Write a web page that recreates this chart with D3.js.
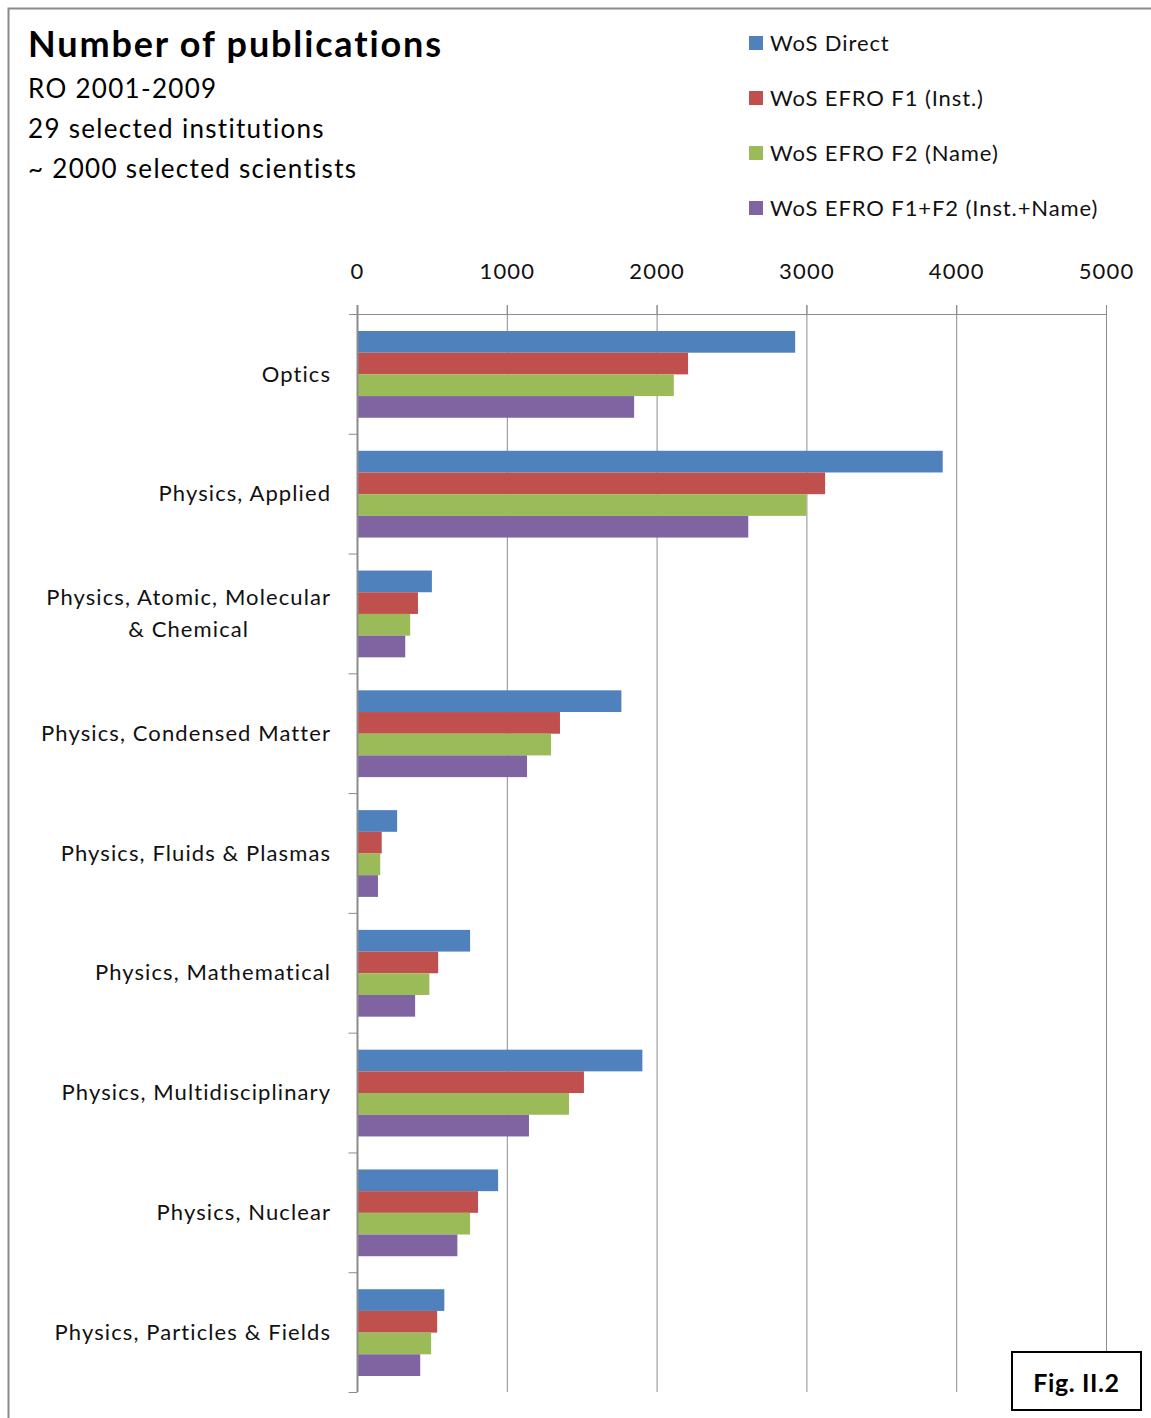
<!DOCTYPE html>
<html>
<head>
<meta charset="utf-8">
<script src="https://cdn.jsdelivr.net/npm/d3@7"></script>
<style>
  html, body { margin: 0; padding: 0; background: #fff; }
  svg { display: block; font-family: Lato, "Open Sans", sans-serif; }
</style>
</head>
<body>
<svg id="chart" width="1151" height="1418"></svg>
<script>
// Subject categories (top to bottom)
const categories = [
  "Optics",
  "Physics, Applied",
  "Physics, Atomic, Molecular\n& Chemical",
  "Physics, Condensed Matter",
  "Physics, Fluids & Plasmas",
  "Physics, Mathematical",
  "Physics, Multidisciplinary",
  "Physics, Nuclear",
  "Physics, Particles & Fields"
];

const seriesNames = [
  "WoS Direct",
  "WoS EFRO F1 (Inst.)",
  "WoS EFRO F2 (Name)",
  "WoS EFRO F1+F2 (Inst.+Name)"
];

// Publication counts per category, one array per series
const wosDirect   = [2925, 3910, 500, 1765, 268, 755, 1905, 942, 583];
const efroF1      = [2210, 3125, 407, 1355, 165, 542, 1515, 808, 535];
const efroF2      = [2115, 3000, 355, 1295, 155, 483, 1415, 755, 495];
const efroF1F2    = [1850, 2612, 322, 1135, 140, 388, 1148, 670, 422];

const xTicks = [0, 1000, 2000, 3000, 4000, 5000];

const titleLines = ["RO 2001-2009", "29 selected institutions", "~ 2000 selected scientists"];

const colors = ["#4F81BD", "#C0504D", "#9BBB59", "#8064A2"];
const seriesValues = [wosDirect, efroF1, efroF2, efroF1F2];

const svg = d3.select("#chart");
const gridColor = "#8c8c8c";
const textColor = "#111";
const spacing = 1.1;

// outer frame (top and left edges)
svg.append("path")
  .attr("d", "M8.5,1418 V8.5 H1151")
  .attr("fill", "none").attr("stroke", "#8a8a8a").attr("stroke-width", 2);

// title block
svg.append("text").attr("x", 28).attr("y", 57)
  .attr("font-size", 36).attr("font-weight", "bold").attr("fill", "#000")
  .attr("letter-spacing", 1.85)
  .text("Number of publications");
titleLines.forEach((t, i) => {
  svg.append("text").attr("x", 28).attr("y", 98 + i * 40)
    .attr("font-size", 26).attr("letter-spacing", 1.3).attr("fill", "#000").text(t);
});

// legend
const legend = svg.append("g");
seriesNames.forEach((name, i) => {
  const y = 43 + i * 55;
  legend.append("rect").attr("x", 749).attr("y", y - 7).attr("width", 14).attr("height", 14)
    .attr("fill", colors[i]);
  legend.append("text").attr("x", 770).attr("y", y).attr("dy", "0.35em")
    .attr("font-size", 22).attr("letter-spacing", 0.9).attr("fill", textColor).text(name);
});

// scales
const x = d3.scaleLinear().domain([0, 5000]).range([357, 1106]);
const y = d3.scaleBand().domain(categories).range([314, 1392]).paddingInner(0).paddingOuter(0);
const inner = d3.scaleBand().domain(d3.range(seriesNames.length))
  .range([17, y.bandwidth() - 16]).paddingOuter(0).paddingInner(0);

// vertical gridlines
svg.append("g").selectAll("line").data(xTicks.slice(1)).join("line")
  .attr("x1", d => x(d) + 0.5).attr("x2", d => x(d) + 0.5)
  .attr("y1", 305).attr("y2", 1392)
  .attr("stroke", gridColor).attr("stroke-width", 1);

// top value axis
const xAxis = svg.append("g").attr("transform", "translate(0,314)")
  .call(d3.axisTop(x).tickValues(xTicks).tickSize(9).tickPadding(0).tickFormat(d3.format("d")));
xAxis.select(".domain").attr("stroke", gridColor);
xAxis.selectAll(".tick line").attr("stroke", gridColor);
xAxis.selectAll(".tick text").remove();
svg.append("g").selectAll("text").data(xTicks).join("text")
  .attr("x", d => x(d) + spacing / 2).attr("y", 279)
  .attr("text-anchor", "middle").attr("font-size", 22).attr("letter-spacing", 1.2)
  .attr("fill", textColor)
  .text(d => d);
svg.append("line").attr("x1", 349).attr("x2", 357).attr("y1", 314.5).attr("y2", 314.5)
  .attr("stroke", gridColor);

// bars
const groups = svg.append("g").selectAll("g").data(categories).join("g")
  .attr("transform", d => `translate(0,${y(d)})`);
groups.selectAll("rect")
  .data((c, ci) => seriesValues.map((vals, si) => ({ si, v: vals[ci] })))
  .join("rect")
  .attr("x", x(0))
  .attr("y", d => inner(d.si))
  .attr("width", d => x(d.v) - x(0))
  .attr("height", inner.bandwidth())
  .attr("fill", d => colors[d.si]);

// category axis
const yAxis = svg.append("g").attr("transform", "translate(357.5,0)");
yAxis.append("line").attr("x1", 0).attr("x2", 0).attr("y1", 305).attr("y2", 1392)
  .attr("stroke", gridColor).attr("stroke-width", 2);
const bounds = categories.map(c => y(c) + y.bandwidth());
yAxis.selectAll("line.tk").data(bounds).join("line").attr("class", "tk")
  .attr("x1", -9).attr("x2", 0).attr("y1", d => d + 0.5).attr("y2", d => d + 0.5)
  .attr("stroke", gridColor);

// category labels: wrapped lines are centred under the widest line, block right-aligned
const labelRight = 330;
const labels = svg.append("g");
categories.forEach(d => {
  const lines = d.split("\n");
  const cy = y(d) + y.bandwidth() / 2;
  const texts = lines.map((ln, i) => labels.append("text")
    .attr("font-size", 22).attr("letter-spacing", spacing).attr("fill", textColor)
    .attr("y", cy + (i - (lines.length - 1) / 2) * 32).attr("dy", "0.35em")
    .text(ln));
  const widths = texts.map(t => t.node().getComputedTextLength() - spacing);
  const maxW = d3.max(widths);
  texts.forEach((t, i) => {
    t.attr("x", labelRight - maxW + (maxW - widths[i]) / 2);
  });
});

// figure tag
svg.append("rect").attr("x", 1012).attr("y", 1352).attr("width", 129).attr("height", 58)
  .attr("fill", "#fff").attr("stroke", "#000").attr("stroke-width", 2);
svg.append("text").attr("x", 1076.5).attr("y", 1383).attr("dy", "0.35em")
  .attr("text-anchor", "middle").attr("font-size", 25).attr("font-weight", "bold")
  .attr("letter-spacing", 0.6)
  .text("Fig. II.2");
</script>
</body>
</html>
